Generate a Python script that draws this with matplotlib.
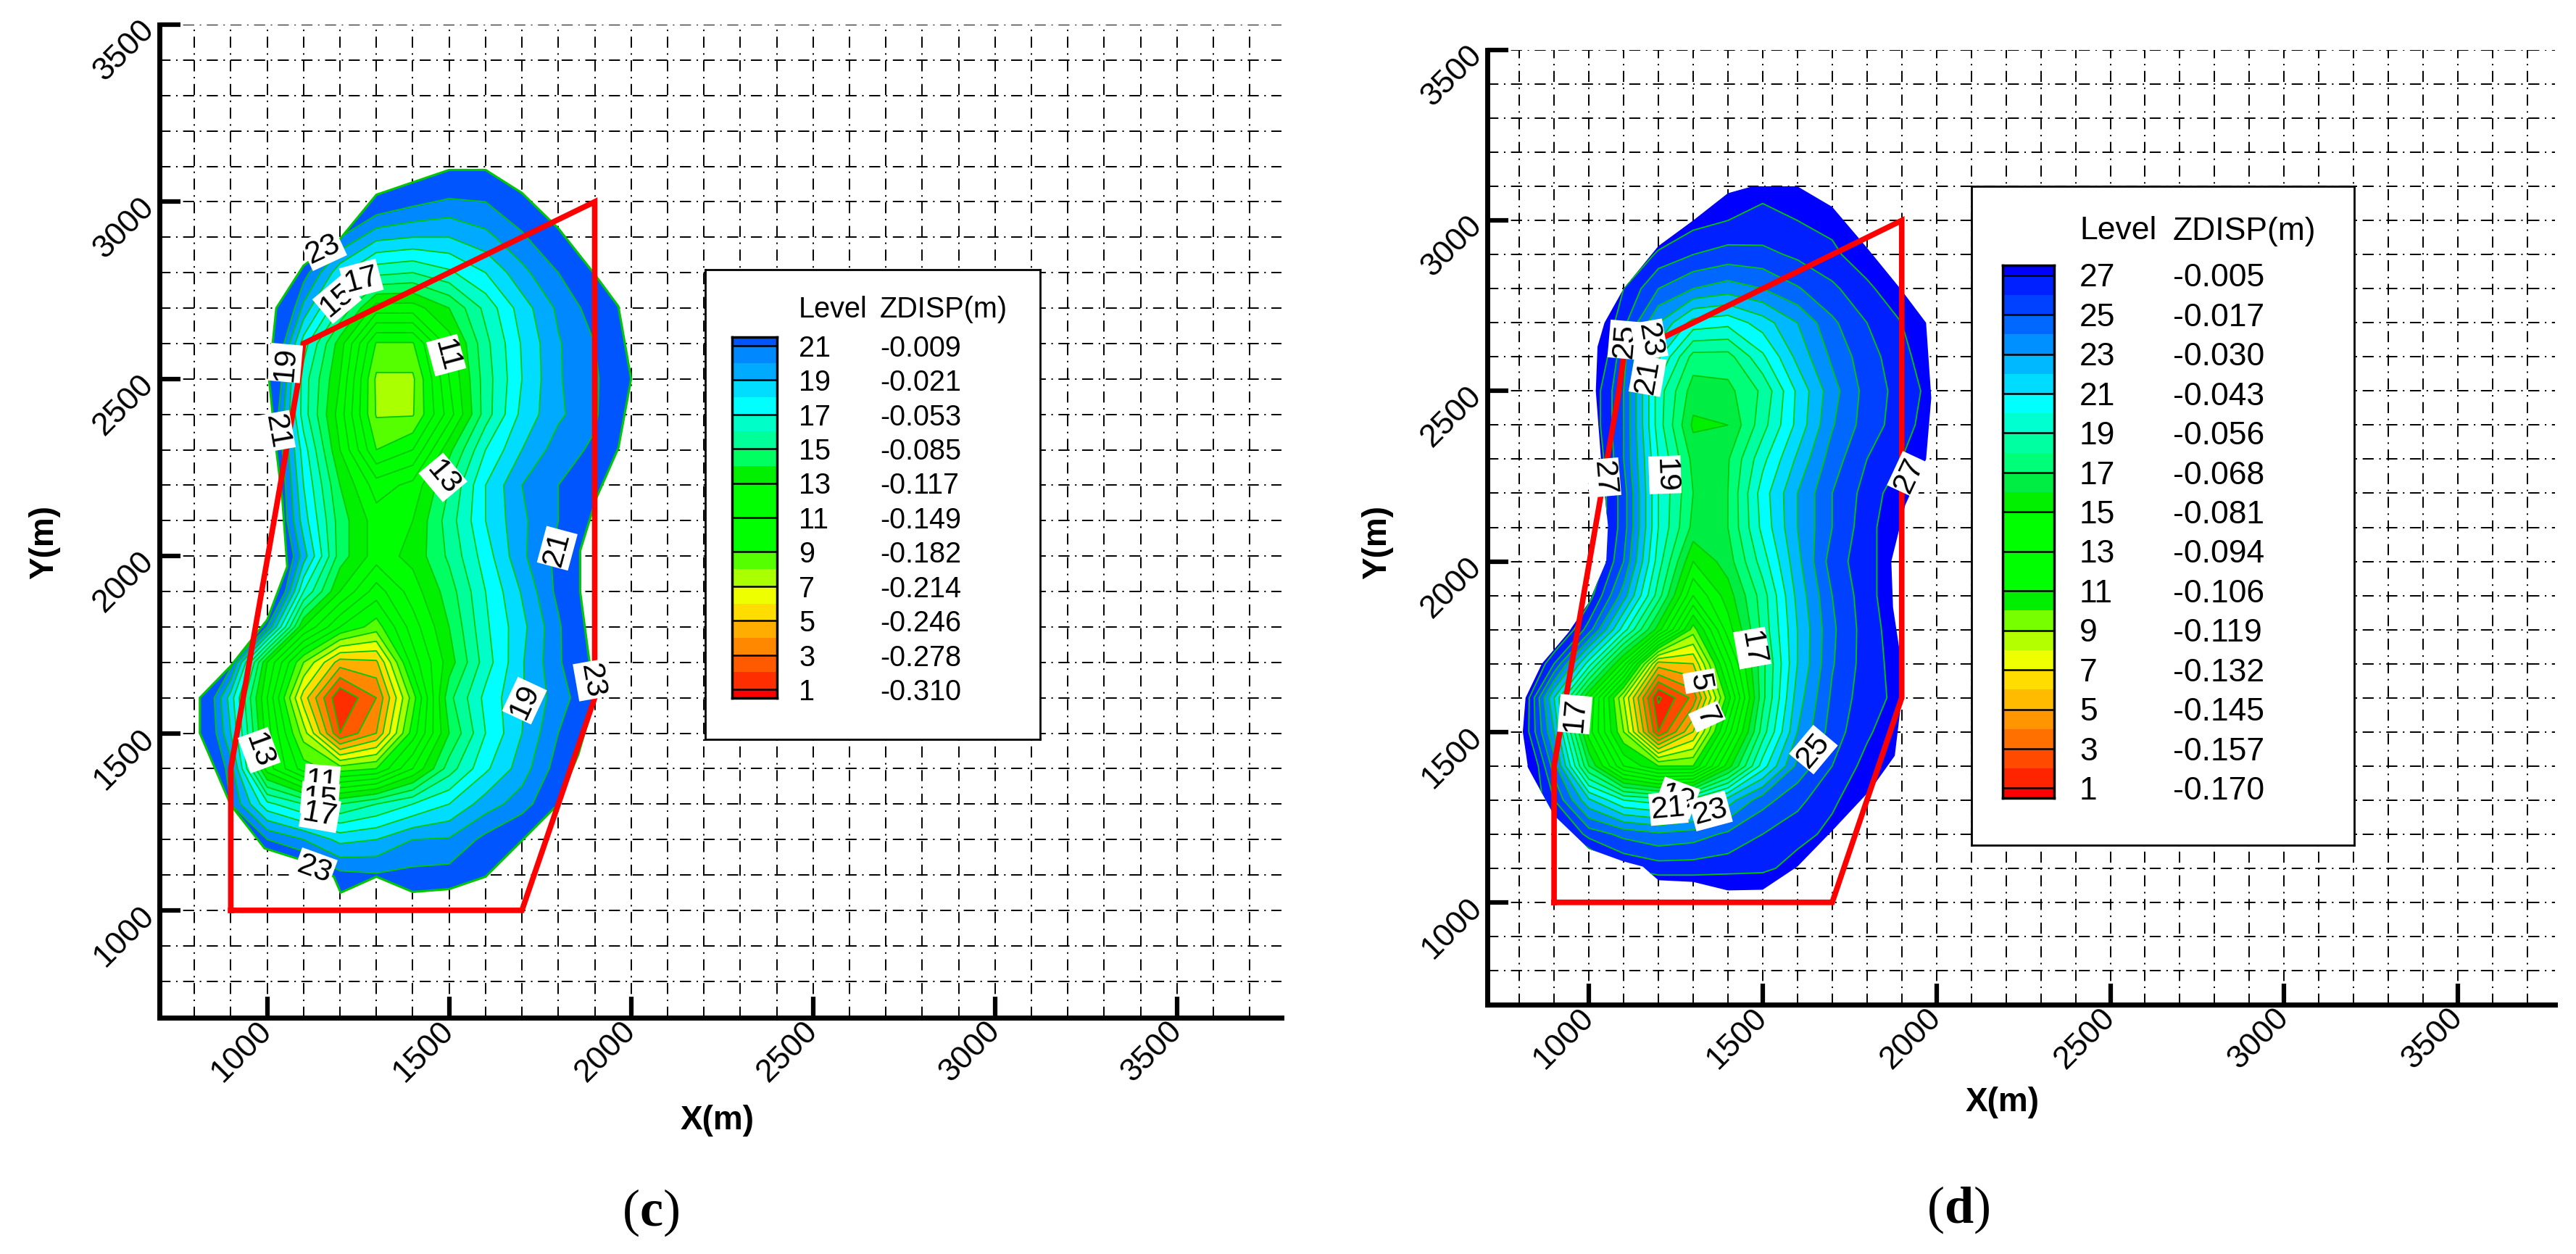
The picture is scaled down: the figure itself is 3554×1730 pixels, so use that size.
import numpy as np
import matplotlib
matplotlib.use("Agg")
import matplotlib.pyplot as plt
from matplotlib.patches import Polygon, Rectangle

W, H = 3554, 1731
plt.rcParams['font.family'] = ['Liberation Sans', 'DejaVu Sans']
plt.rcParams['lines.scale_dashes'] = False
plt.rcParams['mathtext.fontset'] = 'custom'
plt.rcParams['mathtext.rm'] = 'Liberation Serif'
plt.rcParams['mathtext.bf'] = 'Liberation Serif:bold'

grid_x = [800, 900, 1000, 1100, 1200, 1300, 1400, 1500, 1600, 1700, 1800, 1900, 2000]
grid_y = [1000, 1100, 1200, 1300, 1400, 1500, 1600, 1700, 1800, 1900, 2000,
          2100, 2200, 2300, 2400, 2500, 2600, 2700, 2800, 2900, 3000, 3100]

# level field, one row per grid_y
level_c = [
    [25, 25, 25, 25, 24, 25, 25, 25, 25, 25, 25, 25, 25],
    [25, 25, 24, 23, 21.3, 21.1, 21.3, 21.4, 23, 24, 25, 25, 25],
    [25, 24, 21, 20, 18.7, 19, 20, 20.1, 21.3, 22.3, 24, 25, 25],
    [25, 21, 17.3, 16, 15, 16, 17, 18, 19.5, 20.5, 22.2, 24, 25],
    [24, 20.5, 12.5, 9.5, 8.5, 9, 12, 15.5, 17.8, 19.5, 21.5, 24, 25],
    [24, 19, 12.5, 7.5, 2, 4, 9.5, 14, 17, 19, 21, 23, 24],
    [24, 18.5, 12, 5.5, 1, 3, 8.5, 14.7, 17.3, 18.9, 20.5, 22, 24],
    [24, 21.5, 13, 8, 4.5, 4.8, 10.5, 13.5, 16.5, 18.9, 20.8, 23, 24],
    [25, 25, 21, 13, 10, 8.5, 11.5, 14, 16.8, 18.7, 20.8, 23.5, 25],
    [25, 25, 25, 17, 13, 10.5, 12.5, 14.5, 17, 19.1, 21.3, 23.5, 25],
    [25, 25, 25, 19.5, 14.5, 12.5, 13.3, 15.2, 17.5, 19.8, 21.3, 23.5, 25],
    [25, 25, 24, 18.5, 14.5, 12.5, 13, 15.5, 18, 19.8, 21, 22.8, 25],
    [25, 25, 24, 18, 14, 11.5, 12.3, 15, 18, 20, 21, 21.7, 24],
    [25, 25, 23.5, 17.5, 13, 9, 10, 13.7, 17, 19, 20.5, 21.2, 24],
    [25, 25, 23, 16.5, 12.5, 7.9, 7.9, 11.5, 15.5, 18.3, 19.8, 20.8, 23],
    [25, 25, 24, 16.5, 13, 7.8, 7.8, 12, 15.5, 18, 19.9, 20.8, 22.5],
    [25, 25, 24, 17.5, 13.5, 8.9, 8.9, 12.5, 15.7, 18.1, 19.9, 21, 24],
    [25, 25, 25, 19.7, 16, 12.5, 12.5, 14, 16.3, 18.5, 20.2, 21.5, 24],
    [25, 25, 25, 21.5, 18.3, 16.3, 16, 16.8, 18, 19.7, 21, 23, 25],
    [25, 25, 25, 24, 21, 19.3, 19, 19, 19.7, 20.8, 22.3, 24, 25],
    [25, 25, 25, 25, 24, 22, 21.3, 20.8, 21, 22, 24, 25, 25],
    [25, 25, 25, 25, 25, 25, 24, 23, 23, 24, 25, 25, 25],
]
level_d = [
    [29, 29, 29, 29, 29, 29, 29, 29, 29, 29, 29, 29, 29],
    [29, 29, 29, 27, 26.5, 26.5, 26.6, 26.7, 27.5, 29, 29, 29, 29],
    [29, 28, 25.6, 24.7, 24.2, 24.5, 25.2, 26, 26.6, 27.3, 29, 29, 29],
    [29, 26, 22.2, 20, 19.5, 20.5, 22.5, 24.6, 25.7, 26.8, 27.8, 29, 29],
    [30, 24.5, 17, 12, 10, 10, 15.5, 20.5, 24.3, 26, 27.4, 29, 29],
    [28.5, 23, 14.5, 9, 2, 6, 12.5, 18.5, 23, 25.5, 26.8, 28, 29],
    [29, 22, 15, 8, 0.8, 3.3, 10.5, 17.7, 22.5, 25.2, 26.6, 27.3, 29],
    [30, 26, 20.5, 14.5, 5.5, 6, 12.5, 17.7, 22, 24.9, 26.5, 27.5, 28],
    [30, 29, 25.5, 20.5, 15.5, 9.5, 14.5, 18.3, 22, 24.8, 26.5, 27.7, 29],
    [30, 29, 27.5, 23.5, 18.5, 13, 15.5, 18.5, 22.3, 25, 26.6, 28, 29],
    [30, 29, 28.5, 25, 19.5, 15, 16.5, 19.5, 22.7, 25.5, 26.6, 28, 29],
    [29, 29, 28.5, 25.5, 20, 16.7, 17, 20.3, 23, 25, 26.6, 28, 29],
    [29, 29, 28.5, 25.5, 20, 17, 17, 20.5, 23, 25, 26.4, 27.7, 29],
    [29, 29, 28.5, 25, 20, 16.7, 16.9, 19.7, 22.2, 24.5, 26, 27, 28.5],
    [29, 29, 28, 25, 19.5, 15.8, 16, 18.6, 21.3, 23.9, 25.5, 26.5, 27.8],
    [29, 29, 28, 25, 19.5, 16.5, 16.7, 18.2, 21.2, 23.6, 25.4, 26.4, 27.5],
    [29, 29, 29, 25.3, 21.2, 17.6, 17.6, 19.8, 22.3, 24.2, 25.6, 26.6, 28],
    [29, 29, 29, 26.3, 23, 20.6, 20.3, 21.5, 23, 24.8, 26, 27, 28.5],
    [29, 29, 29.5, 27, 25, 24, 23.5, 24, 24.9, 25.8, 26.7, 28, 29],
    [29, 29, 29, 29, 26.7, 26, 25.6, 25.7, 26.2, 26.7, 27.8, 29, 29],
    [29, 29, 29, 29, 29, 27.4, 27, 26.8, 27, 27.4, 29, 29, 29],
    [29, 29, 29, 29, 29, 29, 28, 27.2, 28, 29, 29, 29, 29],
]

# outer edge of each contour plot
edge_c = [(1500, 3090), (1600, 3090), (1700, 3025), (1800, 2925), (1900, 2795), (1965, 2705),
          (2000, 2500), (1965, 2305), (1905, 2165), (1860, 2015), (1860, 1900), (1882, 1728),
          (1900, 1600), (1855, 1440), (1797, 1297), (1700, 1197), (1600, 1095), (1500, 1060),
          (1400, 1052), (1300, 1095), (1202, 1050), (1183, 1095), (1083, 1146), (993, 1175),
          (900, 1297), (815, 1500), (815, 1600), (900, 1690), (1000, 1820), (1055, 1970),
          (1042, 2155), (1025, 2300), (1005, 2500), (1025, 2700), (1100, 2820), (1200, 2895),
          (1300, 3020)]
edge_d = [(1500, 3127), (1600, 3100), (1700, 3040), (1800, 2920), (1900, 2795), (1970, 2700),
          (1985, 2480), (1970, 2300), (1910, 2165), (1870, 2000), (1875, 1865), (1895, 1730),
          (1900, 1600), (1880, 1430), (1810, 1330), (1700, 1210), (1600, 1105), (1500, 1037),
          (1400, 1035), (1300, 1060), (1200, 1065), (1155, 1105), (1100, 1120), (1000, 1157),
          (900, 1255), (825, 1395), (810, 1500), (818, 1600), (865, 1700), (940, 1790),
          (1000, 1880), (1050, 2000), (1055, 2105), (1035, 2300), (1020, 2500), (1025, 2630),
          (1045, 2700), (1100, 2800), (1200, 2925), (1300, 3000), (1400, 3080), (1470, 3100)]

# red boundary, same in both plots
boundary = [(900, 1000), (1700, 1000), (1900, 1600), (1900, 3000), (1100, 2600), (1085, 2490),
            (900, 1400), (900, 1000)]

# contour labels: text, x, y, angle
labels_c = [('23', 1154, 2868, 25), ('15', 1192, 2724, 40), ('17', 1259, 2782, 15),
            ('19', 1050, 2545, 85), ('21', 1026, 2352, -80), ('11', 1492, 2567, -75),
            ('13', 1483, 2222, -50), ('21', 1797, 2022, 75), ('19', 1707, 1592, 65),
            ('23', 1892, 1650, -80), ('13', 978, 1452, -70), ('11', 1150, 1365, -5),
            ('15', 1145, 1315, -5), ('17', 1145, 1272, -10), ('23', 1130, 1117, -20)]
labels_d = [('25', 1104, 2650, 85), ('23', 1174, 2650, -80), ('21', 1169, 2545, 80),
            ('19', 1219, 2254, -88), ('27', 1043, 2246, -85), ('27', 1922, 2254, 65),
            ('17', 1470, 1746, -80), ('5', 1320, 1649, -80), ('7', 1340, 1545, -65),
            ('17', 960, 1552, 85), ('25', 1646, 1448, 50), ('19', 1254, 1306, -20),
            ('21', 1229, 1276, 5), ('23', 1350, 1268, 15)]

# band colours from lowest level to highest
colors_c = ['#ff0000', '#ff2e00', '#ff5a00', '#ff8800', '#ffae00', '#ffdd00', '#eeff00', '#aaff00',
            '#55ff00', '#00ff00', '#00ff00', '#00ff00', '#00ff00', '#00f000', '#00ff60', '#00ff99',
            '#00ffc8', '#00ffff', '#00ddff', '#00aaff', '#0088ff', '#0055ff']
colors_d = ['#ff0000', '#ff2400', '#ff4a00', '#ff7000', '#ff9500', '#ffbb00', '#ffdd00', '#eeff00',
            '#b4ff00', '#77ff00', '#00ee00', '#00ff00', '#00ff00', '#00ff00', '#00ff00', '#00f000',
            '#00ee44', '#00ff78', '#00ffa0', '#00ffd0', '#00ffff', '#00dcff', '#00b8ff', '#0090ff',
            '#0068ff', '#0040ff', '#0020ff', '#0000ff']

legend_levels_c = [21, 19, 17, 15, 13, 11, 9, 7, 5, 3, 1]
legend_values_c = ['-0.009', '-0.021', '-0.053', '-0.085', '-0.117', '-0.149',
                   '-0.182', '-0.214', '-0.246', '-0.278', '-0.310']
legend_levels_d = [27, 25, 23, 21, 19, 17, 15, 13, 11, 9, 7, 5, 3, 1]
legend_values_d = ['-0.005', '-0.017', '-0.030', '-0.043', '-0.056', '-0.068', '-0.081',
                   '-0.094', '-0.106', '-0.119', '-0.132', '-0.145', '-0.157', '-0.170']

tick_values = [1000, 1500, 2000, 2500, 3000, 3500]

fig = plt.figure(figsize=(W / 100, H / 100), dpi=100)


def px_axes(x0, y0, x1, y1):
    return fig.add_axes([x0 / W, 1 - y1 / H, (x1 - x0) / W, (y1 - y0) / H])


def draw_map(rect, xlim, ylim, field, edge, colors, labels, edge_line, label_size, tick_size):
    ax = px_axes(*rect)
    ax.set_xlim(*xlim)
    ax.set_ylim(*ylim)
    for side in ['top', 'right']:
        ax.spines[side].set_visible(False)
    for side in ['left', 'bottom']:
        ax.spines[side].set_linewidth(5)

    ax.set_xticks(tick_values)
    ax.set_yticks(tick_values)
    ax.set_xticks(np.arange(800, 3800, 100), minor=True)
    ax.set_yticks(np.arange(800, 3500, 100), minor=True)
    ax.tick_params(which='major', direction='in', length=21, width=4.5)
    ax.tick_params(which='minor', length=0)
    ax.tick_params(axis='x', which='major', labelsize=tick_size, pad=8, labelrotation=45)
    ax.tick_params(axis='y', which='major', labelsize=tick_size, pad=10, labelrotation=45)
    for lab in ax.get_xticklabels() + ax.get_yticklabels():
        lab.set_ha('right')
        lab.set_va('center')
        lab.set_rotation_mode('anchor')

    ax.set_axisbelow(True)
    dash = (0, (11, 5.5, 1.5, 5.5))
    ax.grid(which='both', color='black', linewidth=1.4, linestyle=dash)

    n_levels = len(colors) - 1
    levels = [-5] + list(range(1, n_levels + 1)) + [60]
    fill = ax.contourf(grid_x, grid_y, field, levels=levels, colors=colors)
    lines = ax.contour(grid_x, grid_y, field, levels=list(range(1, n_levels + 1)),
                       colors='#00c800', linewidths=1.3)
    clip = Polygon(edge, closed=True, transform=ax.transData, facecolor='none', edgecolor='none')
    ax.add_patch(clip)
    fill.set_clip_path(clip)
    lines.set_clip_path(clip)
    if edge_line:
        ax.add_patch(Polygon(edge, closed=True, fill=False, edgecolor='#00c800', linewidth=2.2, zorder=3))

    bx, by = zip(*boundary)
    ax.plot(bx, by, color='#ff0000', linewidth=5.5, solid_joinstyle='miter', zorder=4)

    for txt, x, y, ang in labels:
        ax.text(x, y, txt, rotation=ang, rotation_mode='anchor', ha='center', va='center',
                fontsize=label_size, color='black', zorder=5,
                bbox=dict(facecolor='white', edgecolor='none', pad=1.5))
    return ax


def draw_legend(box, bar, x_level, x_value, y_head, colors, levels, values, size):
    ax = px_axes(*box)
    ax.set_xticks([])
    ax.set_yticks([])
    ax.set_facecolor('white')
    for s in ax.spines.values():
        s.set_linewidth(2)

    cb = px_axes(*bar)
    top = max(levels)
    edges = [0.5] + list(range(1, top + 1)) + [top + 0.5]
    for i, c in enumerate(colors):
        cb.add_patch(Rectangle((0, edges[i]), 1, edges[i + 1] - edges[i], facecolor=c, edgecolor='none'))
    cb.set_xlim(0, 1)
    cb.set_ylim(0.5, top + 0.5)
    cb.set_xticks([])
    cb.set_yticks([])
    cb.hlines(levels, 0, 1, color='black', linewidth=1.8)
    for s in cb.spines.values():
        s.set_linewidth(2.5)

    tr = cb.get_yaxis_transform()
    x0 = (x_level - bar[0]) / (bar[2] - bar[0])
    x1 = (x_value - bar[0]) / (bar[2] - bar[0])
    for lev, val in zip(levels, values):
        cb.text(x0, lev - 0.12, str(lev), transform=tr, fontsize=size, va='center', ha='left', clip_on=False)
        cb.text(x1, lev - 0.12, val, transform=tr, fontsize=size, va='center', ha='left', clip_on=False)
    fig.text(x_level / W, 1 - y_head / H, 'Level', fontsize=size, va='center', ha='left')
    fig.text(x_value / W, 1 - y_head / H, 'ZDISP(m)', fontsize=size, va='center', ha='left')


draw_map((220, 35, 1768, 1405), (704, 3787), (697, 3500), level_c, edge_c, colors_c, labels_c, True, 31, 32)
draw_map((2052, 70, 3525, 1387), (708, 3779), (700, 3500), level_d, edge_d, colors_d, labels_d, False, 31, 32)

draw_legend((973, 373, 1435, 1021), (1010, 466, 1072, 964), 1102, 1214, 427,
            colors_c, legend_levels_c, legend_values_c, 28.5)
draw_legend((2720, 258, 3248, 1167), (2763, 367, 2834, 1102), 2869, 2998, 319,
            colors_d, legend_levels_d, legend_values_d, 32)

fig.text(990 / W, 1 - 1546 / H, 'X(m)', fontsize=33, fontweight='bold', ha='center', va='center')
fig.text(61 / W, 1 - 748 / H, 'Y(m)', fontsize=33, fontweight='bold', ha='center', va='center', rotation=90)
fig.text(2763 / W, 1 - 1521 / H, 'X(m)', fontsize=33, fontweight='bold', ha='center', va='center')
fig.text(1900 / W, 1 - 748 / H, 'Y(m)', fontsize=33, fontweight='bold', ha='center', va='center', rotation=90)

fig.text(898 / W, 1 - 1673 / H, r'$\mathrm{(}\mathbf{c}\mathrm{)}$', fontsize=52, ha='center', va='center')
fig.text(2702 / W, 1 - 1669 / H, r'$\mathrm{(}\mathbf{d}\mathrm{)}$', fontsize=52, ha='center', va='center')

fig.savefig('out.png', dpi=100)
